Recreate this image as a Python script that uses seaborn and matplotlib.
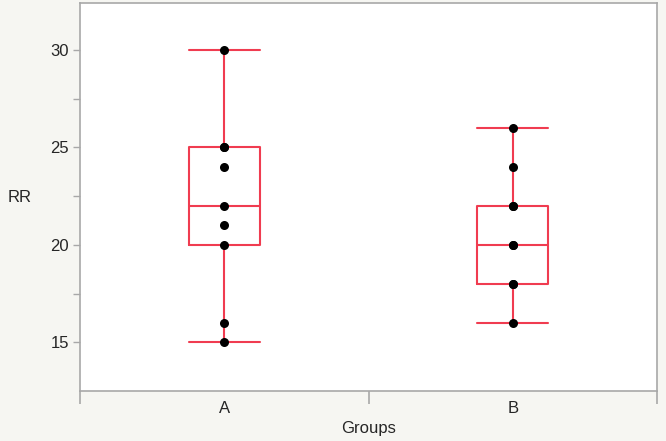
import numpy as np
import pandas as pd
import matplotlib.pyplot as plt
import seaborn as sns

groups = ["A", "B"]
rr_a = [15, 16, 20, 21, 22, 24, 25, 25, 30]
rr_b = [16, 18, 18, 20, 20, 22, 22, 24, 26]

df = pd.DataFrame({
    "Groups": ["A"] * len(rr_a) + ["B"] * len(rr_b),
    "RR": rr_a + rr_b,
})

sns.set_style("white")
plt.rcParams["font.family"] = ["Liberation Sans", "DejaVu Sans"]

red = "#f03c50"
grey = "#a8a8a8"

fig = plt.figure(figsize=(6.66, 4.41), dpi=100, facecolor="#f6f6f2")
ax = fig.add_axes([80 / 666, 50 / 441, 577 / 666, 388 / 441])
ax.set_facecolor("white")

sns.boxplot(data=df, x="Groups", y="RR", order=groups, ax=ax, width=0.245,
            whis=np.inf, fill=False, color=red, linewidth=1.5,
            capwidths=0.245, showfliers=False)
sns.stripplot(data=df, x="Groups", y="RR", order=groups, ax=ax, jitter=False,
              color="black", size=6.5, zorder=3)

ax.set_xlim(-0.5, 1.5)
ax.set_ylim(12.5, 32.4)
ax.set_yticks([15, 20, 25, 30])
ax.set_yticks([17.5, 22.5, 27.5], minor=True)
ax.set_xticks([0, 1])
ax.set_xticklabels(groups)
ax.set_xticks([-0.5, 0.5, 1.5], minor=True)

for s in ax.spines.values():
    s.set_color(grey)
    s.set_linewidth(1.2)

ax.tick_params(axis="y", which="both", left=True, length=5, width=1,
               color=grey, labelsize=12, pad=3)
ax.tick_params(axis="x", which="major", bottom=True, length=0,
               labelsize=12, pad=7)
ax.tick_params(axis="x", which="minor", bottom=True, length=9, width=1.2,
               color=grey)

ax.set_xlabel("Groups", fontsize=12, labelpad=4)
ax.set_ylabel("RR", fontsize=12, rotation=0, labelpad=22, va="center")

fig.savefig("out.png", dpi=100, facecolor=fig.get_facecolor())
